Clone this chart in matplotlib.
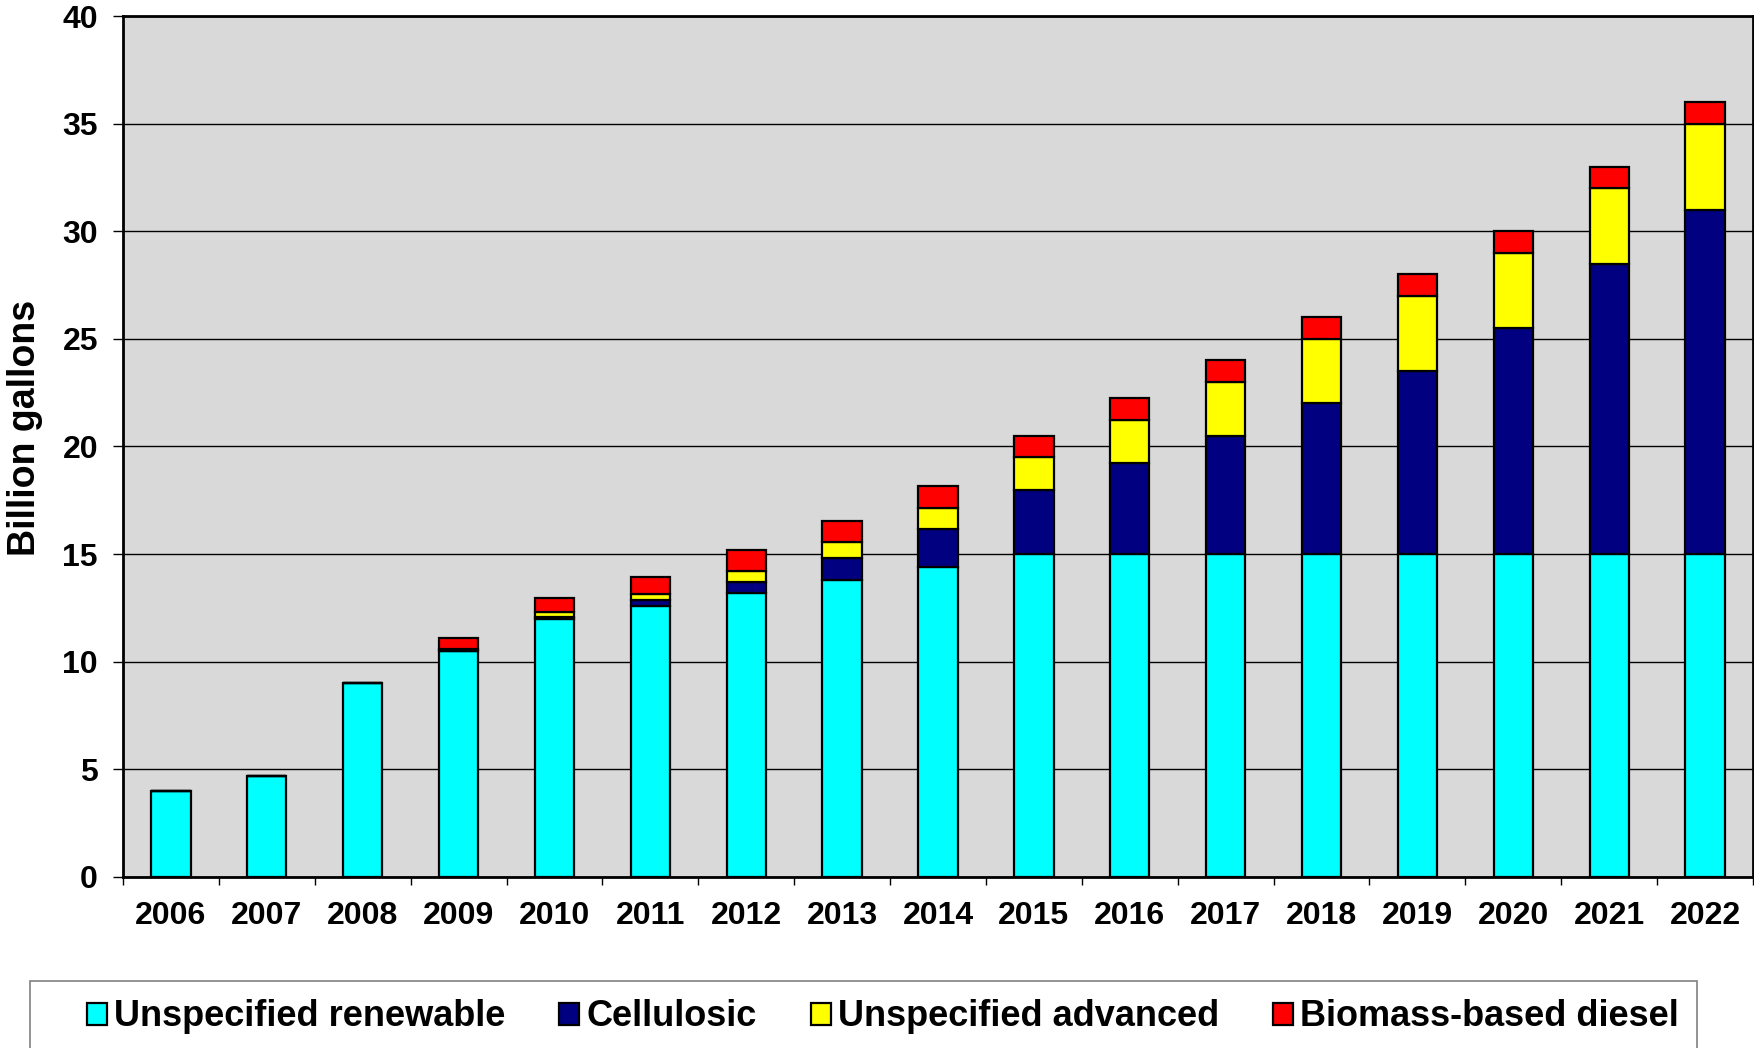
import matplotlib
matplotlib.use("Agg")
import matplotlib.pyplot as plt
from matplotlib.patches import Rectangle
import numpy as np

years = ["2006", "2007", "2008", "2009", "2010", "2011", "2012", "2013", "2014",
         "2015", "2016", "2017", "2018", "2019", "2020", "2021", "2022"]
unspecified_renewable = [4.0, 4.7, 9.0, 10.5, 12.0, 12.6, 13.2, 13.8, 14.4,
                         15.0, 15.0, 15.0, 15.0, 15.0, 15.0, 15.0, 15.0]
cellulosic = [0, 0, 0, 0, 0.1, 0.25, 0.5, 1.0, 1.75,
              3.0, 4.25, 5.5, 7.0, 8.5, 10.5, 13.5, 16.0]
unspecified_advanced = [0, 0, 0, 0.1, 0.2, 0.3, 0.5, 0.75, 1.0,
                        1.5, 2.0, 2.5, 3.0, 3.5, 3.5, 3.5, 4.0]
biomass_diesel = [0, 0, 0, 0.5, 0.65, 0.8, 1.0, 1.0, 1.0,
                  1.0, 1.0, 1.0, 1.0, 1.0, 1.0, 1.0, 1.0]

series = [
    ("Unspecified renewable", unspecified_renewable, "#00FFFF"),
    ("Cellulosic", cellulosic, "#000080"),
    ("Unspecified advanced", unspecified_advanced, "#FFFF00"),
    ("Biomass-based diesel", biomass_diesel, "#FF0000"),
]

plt.rcParams["font.family"] = ["Liberation Sans", "DejaVu Sans"]
plt.rcParams["font.weight"] = "bold"

fig = plt.figure(figsize=(17.54, 10.48), dpi=100)
ax = fig.add_axes([123 / 1754, 1 - 877 / 1048, 1630 / 1754, 861 / 1048])
ax.set_facecolor("#D9D9D9")

x = np.arange(len(years))
bottom = np.zeros(len(years))
for label, vals, color in series:
    vals = np.array(vals)
    ax.bar(x, vals, width=0.41, bottom=bottom, color=color, edgecolor="black",
           linewidth=1.6, label=label, zorder=3)
    bottom += vals

ax.set_xlim(-0.5, len(years) - 0.5)
ax.set_ylim(0, 40)
ax.set_yticks(range(0, 41, 5))
ax.yaxis.grid(True, color="black", linewidth=1.0, zorder=0)
ax.set_axisbelow(True)

ax.set_xticks(x)
ax.set_xticklabels(years)
ax.set_xticks(np.arange(-0.5, len(years)), minor=True)
ax.tick_params(axis="x", which="major", length=0, pad=17, labelsize=23)
ax.tick_params(axis="x", which="minor", length=6, width=1, direction="out")
ax.tick_params(axis="y", length=7, width=1, direction="out", pad=11, labelsize=23)

for s in ax.spines.values():
    s.set_linewidth(2)
    s.set_color("black")

ax.set_ylabel("Billion gallons", fontsize=27, fontweight="bold")
ax.yaxis.set_label_coords(-0.049, 0.522)

fig.patches.append(Rectangle((30 / 1754, -0.05), 1667 / 1754, 0.05 + 67 / 1048,
                             transform=fig.transFigure, facecolor="white",
                             edgecolor="#808080", linewidth=1.2))
fig.legend(loc="center", bbox_to_anchor=(883 / 1754, 1 - 1017 / 1048), ncol=4,
           frameon=False, fontsize=26, handlelength=0.55, handleheight=0.55,
           handletextpad=0.2, columnspacing=1.5)

plt.savefig("out.png", dpi=100)
